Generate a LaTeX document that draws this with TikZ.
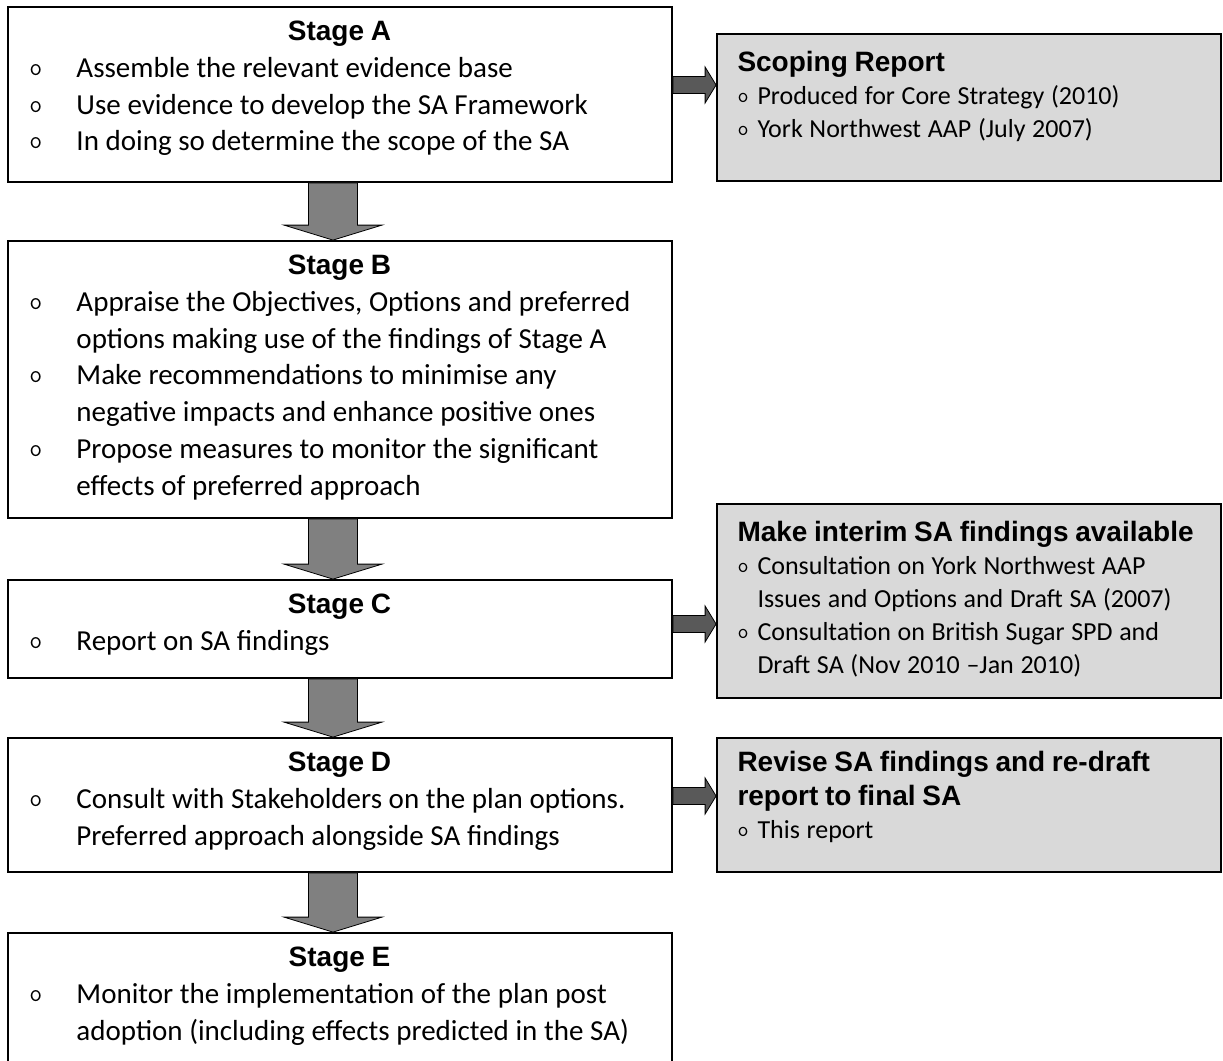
\documentclass[tikz,border=0pt]{standalone}
\usepackage{fontspec}
\setmainfont{Carlito}
\newfontfamily\headfont{Liberation Sans}
\usetikzlibrary{positioning}
\usetikzlibrary{calc}

\definecolor{notegray}{HTML}{D9D9D9}
\definecolor{downgray}{HTML}{808080}
\definecolor{sidegray}{HTML}{595959}

\newcommand{\headsize}{\headfont\bfseries\fontsize{14}{17}\selectfont}
\newcommand{\stagesize}{\fontsize{14.5}{18.4}\selectfont}
\newcommand{\notesize}{\fontsize{13}{16.5}\selectfont}
% bullet lines, left boxes and right boxes
\newcommand{\sbul}{\par\noindent\hangindent=34.5pt\hangafter=1%
  \makebox[34.5pt][l]{\hspace{11pt}\raisebox{1pt}{\ttfamily\fontsize{12.5}{12}\selectfont o}}}
\newcommand{\nbul}{\par\noindent\hangindent=10pt\hangafter=1%
  \makebox[10pt][l]{\raisebox{0.8pt}{\ttfamily\fontsize{10.5}{10}\selectfont o}}}

\tikzset{
  stagebox/.style={draw=black, line width=0.9pt, fill=white, minimum width=332pt, inner sep=0pt},
  notebox/.style={draw=black, line width=0.9pt, fill=notegray, minimum width=252pt, inner sep=0pt},
  stagetext/.style={anchor=north west, inner sep=0pt, text width=332pt},
  notetext/.style={anchor=north west, inner sep=0pt, text width=237pt},
  downarr/.style={draw=black, line width=0.4pt, fill=downgray},
  sidearr/.style={draw=black, line width=0.4pt, fill=sidegray},
}

\begin{document}
\begin{tikzpicture}[x=0.5pt,y=-0.5pt]
  \useasboundingbox (0,0) rectangle (1223,1061);

  % stages
  \node[stagebox, minimum height=87.5pt] (A) at (340,94.5) {};
  \node[stagebox, minimum height=138.5pt] (B) at (340,379.5) {};
  \node[stagebox, minimum height=49pt] (C) at (340,629) {};
  \node[stagebox, minimum height=67pt] (D) at (340,805) {};
  \node[stagebox, minimum height=150pt] (E) at (340,1083) {};

  % outputs
  \node[notebox, minimum height=73.5pt] (scop) at (969,107.5) {};
  \node[notebox, minimum height=97pt] (interim) at (969,601) {};
  \node[notebox, minimum height=67pt] (revise) at (969,805) {};

  \node[stagetext] (Atext) at ([yshift=-5.1pt]A.north west) {%
    {\centering\headsize\strut Stage A\par}\stagesize
    \sbul Assemble the relevant evidence base
    \sbul Use evidence to develop the SA Framework
    \sbul In doing so determine the scope of the SA\par};
  \node[stagetext] (Btext) at ([yshift=-5.1pt]B.north west) {%
    {\centering\headsize\strut Stage B\par}\stagesize
    \sbul Appraise the Objectives, Options and preferred\newline options making use of the findings of Stage A
    \sbul Make recommendations to minimise any\newline negative impacts and enhance positive ones
    \sbul Propose measures to monitor the significant\newline effects of preferred approach\par};
  \node[stagetext] (Ctext) at ([yshift=-5.1pt]C.north west) {%
    {\centering\headsize\strut Stage C\par}\stagesize
    \sbul Report on SA findings\par};
  \node[stagetext] (Dtext) at ([yshift=-5.1pt]D.north west) {%
    {\centering\headsize\strut Stage D\par}\stagesize
    \sbul Consult with Stakeholders on the plan options.\newline Preferred approach alongside SA findings\par};
  \node[stagetext] (Etext) at ([yshift=-5.1pt]E.north west) {%
    {\centering\headsize\strut Stage E\par}\stagesize
    \sbul Monitor the implementation of the plan post\newline adoption (including effects predicted in the SA)\par};

  \node[notetext] (scoptext) at ([xshift=10.5pt,yshift=-7pt]scop.north west) {%
    {\headsize\strut Scoping Report\par}\notesize
    \nbul Produced for Core Strategy (2010)
    \nbul York Northwest AAP (July 2007)\par};
  \node[notetext] (interimtext) at ([xshift=10.5pt,yshift=-7pt]interim.north west) {%
    {\headsize\strut Make interim SA findings available\par}\notesize
    \nbul Consultation on York Northwest AAP\newline Issues and Options and Draft SA (2007)
    \nbul Consultation on British Sugar SPD and\newline Draft SA (Nov 2010 --Jan 2010)\par};
  \node[notetext] (revisetext) at ([xshift=10.5pt,yshift=-5pt]revise.north west) {%
    {\headsize\strut Revise SA findings and re-draft\newline report to final SA\par}\notesize
    \nbul This report\par};

  % block arrows
  \coordinate (spine) at (333,0);
  \foreach \a/\b in {A/B,B/C,C/D,D/E} {
    \path (\a.south -| spine) coordinate (s) (\b.north -| spine) coordinate (t);
    \filldraw[downarr] ($(s)+(-24.5,0)$) -- ($(t)+(-24.5,-15)$) -- ($(t)+(-49,-15)$) -- (t)
      -- ($(t)+(49,-15)$) -- ($(t)+(24.5,-15)$) -- ($(s)+(24.5,0)$) -- cycle;
  }
  \coordinate (ya) at (0,85);
  \coordinate (yc) at (0,624);
  \coordinate (yd) at (0,796);
  \foreach \a/\b/\y in {A/scop/ya,C/interim/yc,D/revise/yd} {
    \path (\a.east |- \y) coordinate (s) (\b.west |- \y) coordinate (t);
    \filldraw[sidearr] ($(s)+(0,-8.5)$) -- ($(t)+(-11,-8.5)$) -- ($(t)+(-11,-18)$) -- (t)
      -- ($(t)+(-11,18)$) -- ($(t)+(-11,8.5)$) -- ($(s)+(0,8.5)$) -- cycle;
  }
\end{tikzpicture}
\end{document}
